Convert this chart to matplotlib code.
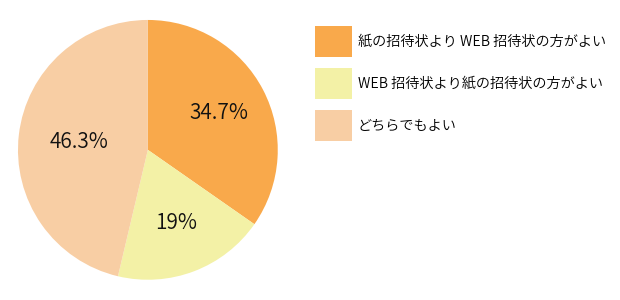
import matplotlib
matplotlib.use('Agg')
import matplotlib.pyplot as plt
import numpy as np

plt.rcParams['font.family'] = ['Noto Sans CJK JP', 'DejaVu Sans']

labels = ['紙の招待状より WEB 招待状の方がよい',
          'WEB 招待状より紙の招待状の方がよい',
          'どちらでもよい']
values = [34.7, 19.0, 46.3]
pct_text = ['34.7%', '19%', '46.3%']
colors = ['#F9A94B', '#F3F1A6', '#F8CEA4']

fig = plt.figure(figsize=(6.2, 3.0), dpi=100)
ax = fig.add_axes([0.029, 0.067, 0.419, 0.867])

wedges, _ = ax.pie(values, colors=colors, startangle=90, counterclock=False,
                   radius=1.0, wedgeprops=dict(linewidth=0))
ax.set_aspect('equal')
ax.set_xlim(-1, 1)
ax.set_ylim(-1, 1)

# label positions by slice mid-angle
dists = [0.62, 0.6, 0.53]
for w, txt, d in zip(wedges, pct_text, dists):
    mid = np.deg2rad((w.theta1 + w.theta2) / 2)
    ax.text(d * np.cos(mid), d * np.sin(mid), txt, ha='center', va='center',
            fontsize=15, color='#111111', fontweight=350)

fig.legend(wedges, labels, loc='upper left', bbox_to_anchor=(0.508, 0.912),
           frameon=False, handlelength=2.62, handleheight=2.95,
           handletextpad=0.4, labelspacing=0.8, borderaxespad=0, borderpad=0,
           prop=dict(weight=350, size=10.2))

fig.savefig('out.png', dpi=100)
